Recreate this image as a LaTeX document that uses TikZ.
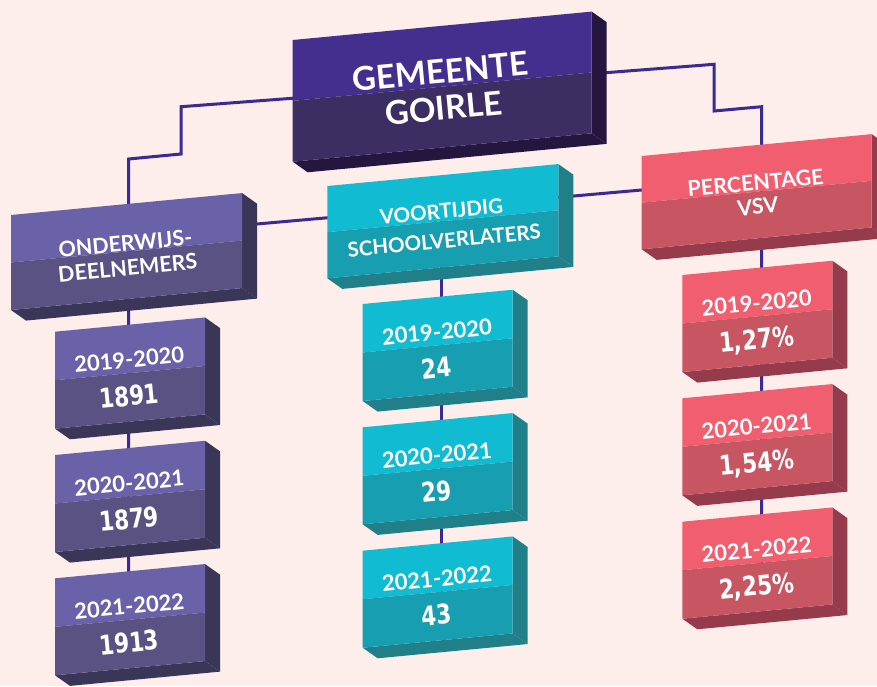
\documentclass[tikz,border=0pt]{standalone}
\usepackage{fontspec}
\setmainfont{Lato}
\newfontfamily\numfont{DejaVu Sans}[FakeStretch=0.8]
\pgfdeclarelayer{paper}
\pgfdeclarelayer{lines}
\pgfsetlayers{paper,lines,main}
\definecolor{bgc}{HTML}{FDEDEB}
\definecolor{lnc}{HTML}{3B2A94}
\definecolor{mainT}{HTML}{452F8E}
\definecolor{mainB}{HTML}{3C2D63}
\definecolor{mainS}{HTML}{25163F}
\definecolor{purT}{HTML}{6A62A8}
\definecolor{purB}{HTML}{5A5283}
\definecolor{purS}{HTML}{3A3658}
\definecolor{cyaT}{HTML}{11BCD2}
\definecolor{cyaB}{HTML}{179FB1}
\definecolor{cyaS}{HTML}{207F89}
\definecolor{pnkT}{HTML}{F05E70}
\definecolor{pnkB}{HTML}{C85562}
\definecolor{pnkS}{HTML}{953B4C}
\newcommand\tbox[8]{%
  \begin{scope}[shift={(#2,#3)},yslant=0.095]
    \fill[#6S] (#4,0) -- ++(15,12) -- ++(0,#5) -- ++(-15,-12) -- cycle;
    \fill[#6S] (0,#5) -- (#4,#5) -- ++(15,12) -- ++(-#4,0) -- cycle;
    \fill[#6T] (0,0) -- (#4,0) -- (#4,#5/2) -- (0,#5/2) -- cycle;
    \fill[#6B] (0,#5/2) -- (#4,#5/2) -- (#4,#5) -- (0,#5) -- cycle;
    \coordinate (#1-c) at (#4/2,#5/2);
    \coordinate (#1-1) at (#4/2,#7);
    \coordinate (#1-2) at (#4/2,#8);
  \end{scope}}
\tikzset{
  lbl/.style={text=white, rotate=5.43, anchor=base, inner sep=0pt},
  two/.style={lbl, anchor=center, align=center},
  ttl/.style={two, font=\bfseries\fontsize{33}{36.5}\selectfont},
  catl/.style={two, font=\bfseries\fontsize{21.5}{24.5}\selectfont},
  catm/.style={two, font=\bfseries\fontsize{20.5}{29.5}\selectfont},
  catr/.style={two, font=\bfseries\fontsize{21.5}{24}\selectfont},
  yr/.style={lbl, font=\bfseries\fontsize{22}{22}\selectfont},
  num/.style={lbl, font=\numfont\bfseries\fontsize{27}{27}\selectfont},
  conn/.style={draw=lnc, line width=3pt, line join=miter}
}
\begin{document}
\begin{tikzpicture}[x=1pt,y=-1pt]
\useasboundingbox (0,0) rectangle (877,686);
\begin{pgfonlayer}{paper}
  \fill[bgc] (0,0) rectangle (877,686);
\end{pgfonlayer}

% boxes
\tbox{main}{292.7}{40}{299}{121.7}{main}{64}{0}
\tbox{catL}{11}{215}{231}{95}{pur}{51.5}{0}
\tbox{catM}{327.3}{186}{231}{92.3}{cya}{51}{0}
\tbox{catR}{641.7}{156}{230}{93.3}{pnk}{49.5}{0}
\tbox{dL1}{55}{331.7}{150}{97}{pur}{43}{81}
\tbox{dL2}{55}{455}{150}{97}{pur}{43}{81}
\tbox{dL3}{55}{578.3}{150}{97}{pur}{43}{81}
\tbox{dM1}{362.7}{304}{150}{97}{cya}{43}{81}
\tbox{dM2}{362.7}{427.3}{150}{97}{cya}{43}{81}
\tbox{dM3}{362.7}{550.7}{150}{97}{cya}{43}{81}
\tbox{dR1}{682.3}{275}{150}{97}{pnk}{43}{81}
\tbox{dR2}{682.3}{398.3}{150}{97}{pnk}{43}{81}
\tbox{dR3}{682.3}{521.7}{150}{97}{pnk}{43}{81}

% texts
\node[ttl] (t-main) at (main-1) {GEMEENTE\\GOIRLE};
\node[catl] (t-catL) at (catL-1) {ONDERWIJS-\\DEELNEMERS};
\node[catm] (t-catM) at (catM-1) {VOORTIJDIG\\SCHOOLVERLATERS};
\node[catr] (t-catR) at (catR-1) {PERCENTAGE\\VSV};
\node[yr] (t-dL1a) at (dL1-1) {2019-2020};
\node[num] (t-dL1b) at (dL1-2) {1891};
\node[yr] (t-dL2a) at (dL2-1) {2020-2021};
\node[num] (t-dL2b) at (dL2-2) {1879};
\node[yr] (t-dL3a) at (dL3-1) {2021-2022};
\node[num] (t-dL3b) at (dL3-2) {1913};
\node[yr] (t-dM1a) at (dM1-1) {2019-2020};
\node[num] (t-dM1b) at (dM1-2) {24};
\node[yr] (t-dM2a) at (dM2-1) {2020-2021};
\node[num] (t-dM2b) at (dM2-2) {29};
\node[yr] (t-dM3a) at (dM3-1) {2021-2022};
\node[num] (t-dM3b) at (dM3-2) {43};
\node[yr] (t-dR1a) at (dR1-1) {2019-2020};
\node[num] (t-dR1b) at (dR1-2) {1,27\%};
\node[yr] (t-dR2a) at (dR2-1) {2020-2021};
\node[num] (t-dR2b) at (dR2-2) {1,54\%};
\node[yr] (t-dR3a) at (dR3-1) {2021-2022};
\node[num] (t-dR3b) at (dR3-2) {2,25\%};

% connector coordinates
\coordinate (colL) at (128.5,0);
\coordinate (colM) at (441.7,0);
\coordinate (colR) at (761.7,0);
\coordinate (main-w) at (296,98);
\coordinate (main-e) at (598,73.3);
\coordinate (jL1) at (181,106.7);
\coordinate (jL2) at (181,154);
\coordinate (jL3) at (128.5,159);
\coordinate (jR1) at (714,64.3);
\coordinate (jR2) at (714,111);
\coordinate (jR3) at (761.7,106.7);
\coordinate (catL-e) at (250,224.6);
\coordinate (catR-w) at (645,189.7);

\begin{pgfonlayer}{lines}
  \draw[conn] (main-w) -- (jL1) -- (jL2) -- (jL3) -- (colL |- dL3-c);
  \draw[conn] (main-e) -- (jR1) -- (jR2) -- (jR3) -- (colR |- dR3-c);
  \draw[conn] (colM |- catM-c) -- (colM |- dM3-c);
  \draw[conn] (catL-e) -- (catR-w);
\end{pgfonlayer}
\end{tikzpicture}
\end{document}
